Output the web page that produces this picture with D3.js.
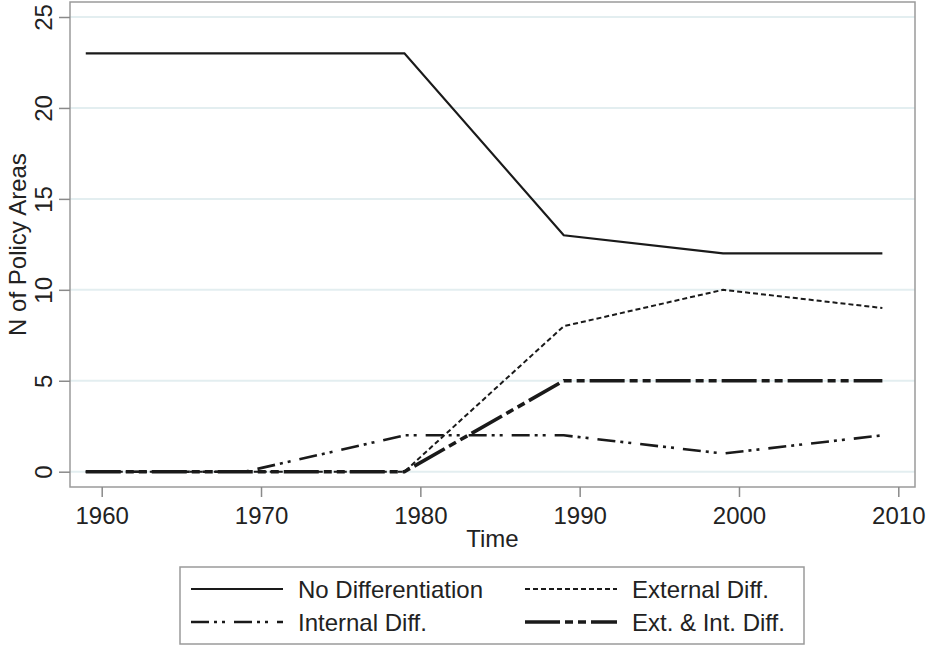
<!DOCTYPE html>
<html>
<head>
<meta charset="utf-8">
<script src="https://cdn.jsdelivr.net/npm/d3@7"></script>
<style>
  body { margin: 0; background: #fff; }
  svg { display: block; font-family: "Liberation Sans", Arial, sans-serif; }
</style>
</head>
<body>
<svg id="chart" width="927" height="646"></svg>
<script>
// data
const years = [1959, 1969, 1979, 1989, 1999, 2009];
const noDiff = [23, 23, 23, 13, 12, 12];
const externalDiff = [0, 0, 0, 8, 10, 9];
const internalDiff = [0, 0, 2, 2, 1, 2];
const extIntDiff = [0, 0, 0, 5, 5, 5];
const yTicks = [0, 5, 10, 15, 20, 25];
const xTicks = [1960, 1970, 1980, 1990, 2000, 2010];

const svg = d3.select("#chart");
const frame = { left: 70, top: 2, right: 915, bottom: 487 };

const x = d3.scaleLinear().domain([1960, 2010]).range([101.7, 898.3]);
const y = d3.scaleLinear().domain([0, 25]).range([471.7, 17]);

// gridlines
svg.append("g")
  .selectAll("line")
  .data(yTicks)
  .join("line")
  .attr("x1", frame.left)
  .attr("x2", frame.right)
  .attr("y1", (d) => y(d))
  .attr("y2", (d) => y(d))
  .attr("stroke", "#e3eef0")
  .attr("stroke-width", 2);

// plot frame
svg.append("rect")
  .attr("x", frame.left)
  .attr("y", frame.top)
  .attr("width", frame.right - frame.left)
  .attr("height", frame.bottom - frame.top)
  .attr("fill", "none")
  .attr("stroke", "#9a9a9a")
  .attr("stroke-width", 1.5);

// y axis
const yAxis = svg.append("g")
  .attr("transform", `translate(${frame.left},0)`)
  .call(d3.axisLeft(y).tickValues(yTicks).tickSize(11));
yAxis.select(".domain").remove();
yAxis.selectAll(".tick line").attr("stroke", "#8a8a8a").attr("stroke-width", 1.5);
yAxis.selectAll(".tick text")
  .attr("transform", "rotate(-90)")
  .attr("x", 0)
  .attr("y", -18)
  .attr("dy", 0)
  .attr("text-anchor", "middle")
  .attr("font-size", 24)
  .attr("font-family", "Liberation Sans, Arial, sans-serif")
  .attr("fill", "#222");

// x axis
const xAxis = svg.append("g")
  .attr("transform", `translate(0,${frame.bottom})`)
  .call(d3.axisBottom(x).tickValues(xTicks).tickFormat(d3.format("d")).tickSize(10));
xAxis.select(".domain").remove();
xAxis.selectAll(".tick line").attr("stroke", "#8a8a8a").attr("stroke-width", 1.5);
xAxis.selectAll(".tick text")
  .attr("y", 37)
  .attr("dy", 0)
  .attr("font-size", 24)
  .attr("font-family", "Liberation Sans, Arial, sans-serif")
  .attr("fill", "#222");

// axis titles
svg.append("text")
  .attr("x", (frame.left + frame.right) / 2)
  .attr("y", 547)
  .attr("text-anchor", "middle")
  .attr("font-size", 24)
  .attr("fill", "#222")
  .text("Time");

svg.append("text")
  .attr("transform", `translate(26,${(frame.top + frame.bottom) / 2}) rotate(-90)`)
  .attr("text-anchor", "middle")
  .attr("font-size", 24)
  .attr("fill", "#222")
  .text("N of Policy Areas");

// series
const series = [
  { name: "No Differentiation", values: noDiff, dash: null, width: 2.2 },
  { name: "External Diff.", values: externalDiff, dash: "5,3", width: 2 },
  { name: "Internal Diff.", values: internalDiff, dash: "18,5,3,5,3,9", width: 2.6 },
  { name: "Ext. & Int. Diff.", values: extIntDiff, dash: "35,5,8,5,8,5", width: 3.6 },
];

const line = d3.line()
  .x((d) => x(d[0]))
  .y((d) => y(d[1]));

svg.append("g")
  .selectAll("path")
  .data(series)
  .join("path")
  .attr("d", (s) => line(years.map((yr, i) => [yr, s.values[i]])))
  .attr("fill", "none")
  .attr("stroke", "#1a1a1a")
  .attr("stroke-width", (s) => s.width)
  .attr("stroke-dasharray", (s) => s.dash);

// legend
const legend = svg.append("g");
legend.append("rect")
  .attr("x", 180)
  .attr("y", 567)
  .attr("width", 624)
  .attr("height", 77)
  .attr("fill", "#fff")
  .attr("stroke", "#9a9a9a")
  .attr("stroke-width", 1.5);

const legendPos = [
  { x: 191, y: 589 },
  { x: 525, y: 589 },
  { x: 191, y: 622 },
  { x: 525, y: 622 },
];

const item = legend.selectAll("g.item")
  .data(series)
  .join("g")
  .classed("item", true)
  .attr("transform", (s, i) => `translate(${legendPos[i].x},${legendPos[i].y})`);

item.append("line")
  .attr("x1", 0)
  .attr("x2", 92)
  .attr("stroke", "#1a1a1a")
  .attr("stroke-width", (s) => s.width)
  .attr("stroke-dasharray", (s) => s.dash);

item.append("text")
  .attr("x", 107)
  .attr("y", 8.5)
  .attr("font-size", 24)
  .attr("fill", "#222")
  .text((s) => s.name);
</script>
</body>
</html>
